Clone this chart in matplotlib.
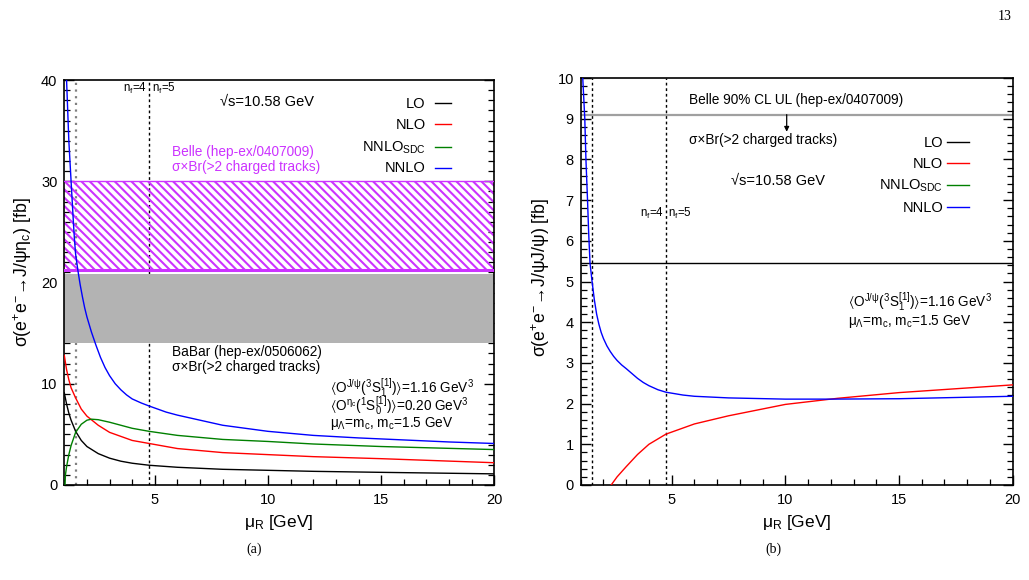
import matplotlib
matplotlib.use('Agg')
import matplotlib.pyplot as plt
from matplotlib.ticker import MultipleLocator

plt.rcParams['font.family'] = ['Liberation Sans', 'DejaVu Sans']
plt.rcParams['mathtext.fontset'] = 'custom'
plt.rcParams['mathtext.rm'] = 'Liberation Sans'
plt.rcParams['mathtext.it'] = 'Liberation Sans'
plt.rcParams['mathtext.bf'] = 'Liberation Sans:bold'
plt.rcParams['mathtext.sf'] = 'Liberation Sans'
plt.rcParams['mathtext.fallback'] = 'stixsans'
plt.rcParams['hatch.linewidth'] = 1.5

# ---------------- panel (a): J/psi eta_c ----------------
mu_lo_a = [1.0, 1.1, 1.2, 1.3, 1.5, 1.75, 2.0, 2.5, 3.0, 3.5, 4.0, 4.75, 6.0, 8.0, 10.0, 12.0, 15.0, 20.0]
lo_a = [9.1, 8.0, 7.1, 6.4, 5.3, 4.4, 3.8, 3.1, 2.65, 2.35, 2.15, 1.95, 1.75, 1.55, 1.45, 1.35, 1.25, 1.1]

mu_nlo_a = [1.0, 1.1, 1.2, 1.3, 1.5, 1.75, 2.0, 2.5, 3.0, 3.5, 4.0, 4.75, 6.0, 8.0, 10.0, 12.0, 15.0, 20.0]
nlo_a = [12.8, 11.4, 10.4, 9.6, 8.6, 7.5, 6.8, 5.9, 5.2, 4.8, 4.4, 4.1, 3.6, 3.2, 3.0, 2.8, 2.6, 2.2]

mu_sdc_a = [1.03, 1.05, 1.1, 1.2, 1.3, 1.5, 1.75, 2.0, 2.2, 2.5, 3.0, 3.5, 4.0, 4.75, 6.0, 8.0, 10.0, 12.0, 15.0, 20.0]
sdc_a = [0.0, 1.0, 1.8, 3.0, 3.9, 5.2, 6.0, 6.4, 6.5, 6.45, 6.2, 5.9, 5.6, 5.3, 4.9, 4.5, 4.3, 4.05, 3.8, 3.5]

mu_nnlo_a = [1.1, 1.15, 1.2, 1.25, 1.3, 1.35, 1.4, 1.45, 1.5, 1.6, 1.7, 1.8, 1.9, 2.0, 2.2, 2.4,
             2.6, 2.8, 3.0, 3.25, 3.5, 3.75, 4.0, 4.4, 4.75, 5.5, 6.0, 7.0, 8.0, 9.0, 10.0,
             12.0, 14.0, 16.0, 18.0, 20.0]
nnlo_a = [40.0, 37.0, 34.0, 32.0, 30.0, 28.0, 26.0, 24.2, 22.8, 21.2, 19.8, 18.6, 17.5, 16.6, 15.1, 13.8,
          12.6, 11.6, 10.8, 10.0, 9.4, 8.9, 8.5, 8.1, 7.8, 7.2, 6.9, 6.4, 5.9, 5.6, 5.3,
          4.9, 4.65, 4.45, 4.25, 4.1]

belle_band = [21.2, 30.0]
babar_band = [14.05, 20.8]

# ---------------- panel (b): J/psi J/psi ----------------
mu_lo_b = [1.0, 20.0]
lo_b = [5.45, 5.45]

mu_nlo_b = [2.34, 2.6, 3.0, 3.5, 4.0, 4.75, 6.0, 7.5, 10.0, 12.3, 15.0, 20.0]
nlo_b = [0.0, 0.2, 0.45, 0.75, 1.0, 1.25, 1.5, 1.7, 1.98, 2.13, 2.27, 2.46]

mu_nnlo_b = [1.09, 1.18, 1.23, 1.3, 1.35, 1.41, 1.5, 1.6, 1.7, 1.8, 1.9, 2.0, 2.15, 2.3, 2.45, 2.6,
             2.8, 3.0, 3.25, 3.5, 3.75, 4.0, 4.4, 4.75, 5.5, 6.0, 7.5, 10.0, 12.0, 15.0, 20.0]
nnlo_b = [10.0, 9.0, 8.0, 7.0, 6.2, 5.45, 5.0, 4.55, 4.2, 3.95, 3.75, 3.6, 3.42, 3.28, 3.16, 3.06,
          2.95, 2.86, 2.74, 2.62, 2.52, 2.44, 2.34, 2.28, 2.21, 2.18, 2.14, 2.11, 2.11, 2.12, 2.18]

belle_ul = 9.1
thresholds = [1.5, 4.75]

W, H = 1029, 580
fig = plt.figure(figsize=(W / 100, H / 100), dpi=100)


def ax_rect(l, r, t, b):
    return [l / W, 1 - b / H, (r - l) / W, (b - t) / H]


def ftext(px, py, s, **kw):
    return fig.text(px / W, 1 - py / H, s, **kw)


axa = fig.add_axes(ax_rect(64.3, 494.3, 80, 485))
axb = fig.add_axes(ax_rect(580.7, 1012.7, 78, 485))

C_BLACK = 'black'
C_RED = '#ff0000'
C_GREEN = '#008000'
C_BLUE = '#0000ff'
C_MAG = '#cc33ff'

for ax in (axa, axb):
    ax.set_xlim(1, 20)
    ax.xaxis.set_major_locator(MultipleLocator(5))
    ax.xaxis.set_minor_locator(MultipleLocator(1))
    ax.tick_params(which='both', direction='in', top=False, right=True, labelsize=10.5)
    ax.tick_params(which='major', length=7, width=1.0)
    ax.tick_params(which='minor', length=4, width=0.9)
    ax.tick_params(axis='x', pad=6)
    ax.tick_params(axis='y', pad=5)
    for s in ax.spines.values():
        s.set_linewidth(1.2)

# ---- panel a ----
axa.set_ylim(0, 40)
axa.yaxis.set_major_locator(MultipleLocator(10))
axa.yaxis.set_minor_locator(MultipleLocator(1))

axa.axvline(thresholds[0], color='#808080', ls=(0, (1, 2)), lw=1.6, zorder=1)
axa.axvline(thresholds[1], color='black', ls=(0, (2, 2)), lw=1.0, zorder=1)

axa.fill_between([1, 20], belle_band[0], belle_band[1], facecolor='none',
                 edgecolor=C_MAG, hatch='\\' * 4, lw=0, zorder=2)
axa.axhline(belle_band[1], color=C_MAG, lw=1.0, zorder=3)
axa.axhline(belle_band[0], color=C_MAG, lw=2.2, zorder=3)
axa.fill_between([1, 20], babar_band[0], babar_band[1], facecolor='#b3b3b3',
                 edgecolor='none', zorder=2)

lw = 1.0
axa.plot(mu_lo_a, lo_a, color=C_BLACK, lw=lw, zorder=4)
axa.plot(mu_nlo_a, nlo_a, color=C_RED, lw=lw, zorder=4)
axa.plot(mu_sdc_a, sdc_a, color=C_GREEN, lw=lw, zorder=4)
axa.plot(mu_nnlo_a, nnlo_a, color=C_BLUE, lw=lw, zorder=4)

# ---- panel b ----
axb.set_ylim(0, 10)
axb.yaxis.set_major_locator(MultipleLocator(1))
axb.yaxis.set_minor_locator(MultipleLocator(0.2))

for t in thresholds:
    axb.axvline(t, color='black', ls=(0, (2, 2)), lw=1.0, zorder=1)
axb.axhline(belle_ul, color='#a0a0a0', lw=1.6, zorder=2)
axb.annotate('', xy=(10.06, 8.68), xytext=(10.06, belle_ul),
             arrowprops=dict(arrowstyle='-|>', color='black', lw=0.9,
                             mutation_scale=7, shrinkA=0, shrinkB=0))
axb.plot(mu_lo_b, lo_b, color=C_BLACK, lw=lw, zorder=4)
axb.plot(mu_nlo_b, nlo_b, color=C_RED, lw=lw, zorder=4)
axb.plot(mu_nnlo_b, nnlo_b, color=C_BLUE, lw=lw, zorder=4)

# ---- legends (label then line, ROOT style) ----
leg_labels = ['LO', 'NLO', r'NNLO$_{\mathrm{SDC}}$', 'NNLO']
leg_colors = [C_BLACK, C_RED, C_GREEN, C_BLUE]


def draw_legend(lab_right, x0, x1, baselines, liney):
    for lab, c, yb, yl in zip(leg_labels, leg_colors, baselines, liney):
        ftext(lab_right, yb, lab, ha='right', va='baseline', fontsize=10.5)
        fig.add_artist(plt.Line2D([x0 / W, x1 / W], [1 - yl / H, 1 - yl / H],
                                  color=c, lw=1.0, transform=fig.transFigure))


draw_legend(425.7, 435, 450.7, [107.7, 129.3, 152, 172.3], [102.7, 124, 146.7, 167.7])
draw_legend(943.3, 946.7, 969.3, [146.7, 168.3, 189.3, 211.7], [141.7, 163.3, 185, 206.7])

TXT_OJPSI = r'$\langle$O$^{\mathrm{J/\psi}}$($^{3}$S$_{1}^{[1]}$)$\rangle$=1.16 GeV$^{3}$'
TXT_OETA = r'$\langle$O$^{\eta_{\mathrm{c}}}$($^{1}$S$_{0}^{[1]}$)$\rangle$=0.20 GeV$^{3}$'
TXT_MU = r'$\mu_{\Lambda}$=m$_{\mathrm{c}}$, m$_{\mathrm{c}}$=1.5 GeV'

# ---- texts panel a ----
ftext(266.7, 106, '√s=10.58 GeV', ha='center', va='baseline', fontsize=10.5)
ftext(147, 92, r'n$_{f}$=4', ha='right', va='baseline', fontsize=8.3)
ftext(151.5, 92, r'n$_{f}$=5', ha='left', va='baseline', fontsize=8.3)
ftext(171.7, 155.7, 'Belle (hep-ex/0407009)', ha='left', va='baseline', fontsize=9.8, color=C_MAG)
ftext(171.7, 170.5, 'σ×Br(>2 charged tracks)', ha='left', va='baseline', fontsize=9.8, color=C_MAG)
ftext(171.7, 355.7, 'BaBar (hep-ex/0506062)', ha='left', va='baseline', fontsize=9.8)
ftext(171.7, 370.5, 'σ×Br(>2 charged tracks)', ha='left', va='baseline', fontsize=9.8)
ftext(330, 394, TXT_OJPSI, ha='left', va='baseline', fontsize=9.8)
ftext(330, 411.7, TXT_OETA, ha='left', va='baseline', fontsize=9.8)
ftext(330, 426.7, TXT_MU, ha='left', va='baseline', fontsize=9.8)

# ---- texts panel b ----
ftext(689.3, 104, 'Belle 90% CL UL (hep-ex/0407009)', ha='left', va='baseline', fontsize=9.8)
ftext(689.3, 144, 'σ×Br(>2 charged tracks)', ha='left', va='baseline', fontsize=9.8)
ftext(730.7, 185, '√s=10.58 GeV', ha='left', va='baseline', fontsize=10.5)
ftext(664, 216.7, r'n$_{f}$=4', ha='right', va='baseline', fontsize=8.3)
ftext(667.5, 216.7, r'n$_{f}$=5', ha='left', va='baseline', fontsize=8.3)
ftext(848.3, 307.3, TXT_OJPSI, ha='left', va='baseline', fontsize=9.8)
ftext(848.3, 325, TXT_MU, ha='left', va='baseline', fontsize=9.8)

# ---- axis labels ----
ftext(279, 527.3, r'$\mu_{\mathrm{R}}$ [GeV]', ha='center', va='baseline', fontsize=12.5)
ftext(796.7, 527.3, r'$\mu_{\mathrm{R}}$ [GeV]', ha='center', va='baseline', fontsize=12.5)
ftext(23, 272, r'σ(e$^{+}$e$^{-}$→J/ψη$_{\mathrm{c}}$) [fb]',
      ha='center', va='center', rotation=90, fontsize=12.8)
ftext(541, 277, r'σ(e$^{+}$e$^{-}$→J/ψJ/ψ) [fb]',
      ha='center', va='center', rotation=90, fontsize=12.8)

ftext(254.5, 549, '(a)', ha='center', va='center', fontsize=10, family='Liberation Serif')
ftext(773, 549, '(b)', ha='center', va='center', fontsize=10, family='Liberation Serif')
ftext(1005, 16, '13', ha='center', va='center', fontsize=10, family='Liberation Serif')

fig.savefig('out.png', dpi=100)
